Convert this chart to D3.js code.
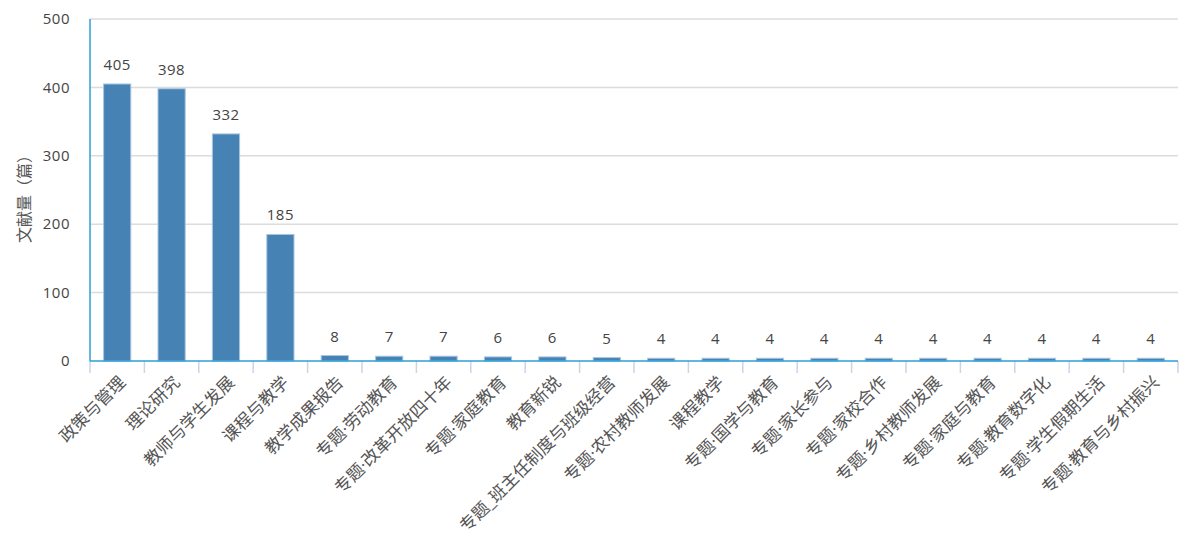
<!DOCTYPE html>
<html><head><meta charset="utf-8">
<script src="https://cdn.jsdelivr.net/npm/d3@7"></script>
<style>body{margin:0;background:#fff}svg{display:block}</style>
</head><body><svg id="c" width="1197" height="537"></svg>
<script>
const categories = ["政策与管理","理论研究","教师与学生发展","课程与教学","教学成果报告","专题·劳动教育","专题·改革开放四十年","专题·家庭教育","教育新锐","专题_班主任制度与班级经营","专题·农村教师发展","课程教学","专题·国学与教育","专题·家长参与","专题·家校合作","专题·乡村教师发展","专题·家庭与教育","专题·教育数字化","专题·学生假期生活","专题·教育与乡村振兴"];
const values = [405,398,332,185,8,7,7,6,6,5,4,4,4,4,4,4,4,4,4,4];
const yTicks = [0,100,200,300,400,500];
const yTitle = "文献量（篇）";

const font = "'Open Sans','Noto Sans CJK SC',sans-serif";
const svg = d3.select("#c");
const m = {l:90, r:1178, t:19, b:361};
const x = d3.scaleBand().domain(categories).range([m.l, m.r]).paddingInner(0.5).paddingOuter(0.25);
const y = d3.scaleLinear().domain([0,500]).range([m.b, m.t]);

svg.append("g").selectAll("line").data(yTicks.filter(d=>d>0)).join("line")
  .attr("x1", m.l).attr("x2", m.r).attr("y1", d=>y(d)).attr("y2", d=>y(d))
  .attr("stroke", "#dcdcdc").attr("stroke-width", 1.5);

svg.append("g").selectAll("text").data(yTicks).join("text")
  .attr("x", 70).attr("y", d=>y(d)).attr("dy","0.35em")
  .attr("text-anchor","end").attr("font-family",font).attr("font-size",15)
  .attr("letter-spacing",0.5).attr("fill","#444").text(d=>d);

svg.append("text").attr("transform","translate(30,195) rotate(-90)")
  .attr("text-anchor","middle").attr("font-family",font).attr("font-size",16)
  .attr("fill","#555").text(yTitle);

svg.append("g").selectAll("rect").data(values).join("rect")
  .attr("x",(d,i)=>x(categories[i])).attr("width",x.bandwidth())
  .attr("y",d=>y(d)).attr("height",d=>y(0)-y(d))
  .attr("fill","#4682b4").attr("stroke","#a9c5e0").attr("stroke-width",1);

svg.append("g").selectAll("text").data(values).join("text")
  .attr("x",(d,i)=>x(categories[i])+x.bandwidth()/2).attr("y",d=>y(d)-14)
  .attr("text-anchor","middle").attr("font-family",font).attr("font-size",15)
  .attr("letter-spacing",0.5).attr("fill","#444").text(d=>d);

const bounds = d3.range(categories.length+1).map(i=>m.l + i*(m.r-m.l)/categories.length);
svg.append("g").selectAll("line").data(bounds).join("line")
  .attr("x1",d=>d).attr("x2",d=>d).attr("y1",m.b).attr("y2",m.b+12)
  .attr("stroke","#c8d6e6").attr("stroke-width",1.5);

svg.append("line").attr("x1",m.l).attr("x2",m.l).attr("y1",m.t).attr("y2",m.b)
  .attr("stroke","#2d9fd9").attr("stroke-width",1.5);
svg.append("line").attr("x1",m.l).attr("x2",m.r).attr("y1",m.b).attr("y2",m.b)
  .attr("stroke","#2d9fd9").attr("stroke-width",1.5);

svg.append("g").selectAll("text").data(categories).join("text")
  .attr("transform",d=>`translate(${x(d)+x.bandwidth()/2+1},${m.b+14}) rotate(-45)`)
  .attr("dy","0.7em")
  .attr("text-anchor","end").attr("font-family",font).attr("font-size",17)
  .attr("fill","#555").text(d=>d);
</script>
</body></html>
